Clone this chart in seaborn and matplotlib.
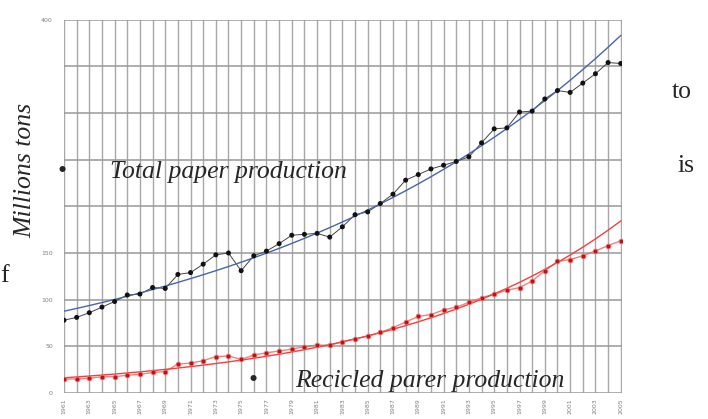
import numpy as np
import pandas as pd
import matplotlib
matplotlib.use("Agg")
import matplotlib.pyplot as plt
import seaborn as sns

# Annual world paper production, million tons
years = list(range(1961, 2006))
total_paper = [78, 81, 86, 92, 98, 105, 106, 113, 112, 127,
               129, 138, 148, 150, 131, 147, 152, 160, 169, 170,
               171, 167, 178, 191, 194, 203, 213, 228, 234, 240,
               244, 248, 253, 268, 283, 284, 301, 302, 315, 324,
               322, 332, 342, 354, 353]
recycled_paper = [15, 15, 15.7, 17.5, 17.5, 19, 20, 22, 23, 31,
                  32, 34.6, 39, 39.6, 36, 40.7, 43, 45, 47, 49.6,
                  51.4, 51, 55, 58, 61, 65, 70, 76, 82, 84,
                  89, 92, 97, 102, 106, 110, 113, 120, 131, 141,
                  143, 147, 152, 158, 163]

y_ticks = [0, 50, 100, 150, 200, 250, 300, 350, 400]
y_tick_labels = ["0", "50", "100", "150", "", "", "", "", "400"]
x_tick_years = list(range(1961, 2006, 2))

df = pd.DataFrame({"year": years, "total": total_paper, "recycled": recycled_paper})

# Exponential trend lines fitted to each series
def exp_trend(x, y):
    b, a = np.polyfit(x - x[0], np.log(y), 1)
    return np.exp(a + b * (x - x[0]))

xs = np.array(years, dtype=float)
df["total_trend"] = exp_trend(xs, np.array(total_paper, dtype=float))
df["recycled_trend"] = exp_trend(xs, np.array(recycled_paper, dtype=float))

sns.set_style("white")
fig = plt.figure(figsize=(7.08, 4.19), dpi=100)
ax = fig.add_axes([64 / 708, 26 / 419, 558 / 708, 373.4 / 419])

# grid: one vertical line per year, horizontal every 50
for yr in years:
    ax.axvline(yr, color="#a8a8a8", lw=1.0, zorder=0)
for yv in y_ticks:
    ax.axhline(yv, color="#999999", lw=1.1, zorder=0)

sns.lineplot(data=df, x="year", y="total", ax=ax, color="#444444", lw=0.7, zorder=2)
sns.scatterplot(data=df, x="year", y="total", ax=ax, color="#111111", s=13,
                edgecolor="none", zorder=3)
sns.lineplot(data=df, x="year", y="total_trend", ax=ax, color="#4a64a8", lw=1.0, zorder=2)

sns.lineplot(data=df, x="year", y="recycled", ax=ax, color="#f06060", lw=1.0, alpha=0.8, zorder=2)
sns.scatterplot(data=df, x="year", y="recycled", ax=ax, color="#b0181c", s=12,
                edgecolor="#ff7070", linewidth=0.6, zorder=3)
sns.lineplot(data=df, x="year", y="recycled_trend", ax=ax, color="#f04040", lw=1.0, zorder=2)

ax.set_xlim(1961, 2005.1)
ax.set_ylim(0, 400)
for s in ax.spines.values():
    s.set_visible(False)
ax.set_yticks(y_ticks)
ax.set_yticklabels(y_tick_labels, fontsize=4.5, color="#808080")
ax.set_xticks(x_tick_years)
ax.set_xticklabels([str(y) for y in x_tick_years], rotation=90, fontsize=4.5, color="#808080")
ax.tick_params(axis="y", length=0, pad=8)
ax.tick_params(axis="x", length=0, pad=4)
ax.set_xlabel("")
ax.set_ylabel("")

serif = ["Liberation Serif", "DejaVu Serif"]
fs = 18.5
fig.text(25 / 708, 1 - 170 / 419, "Millions tons", rotation=90, ha="center", va="center",
         fontsize=fs, style="italic", family=serif)
fig.text(62 / 708, 1 - 172 / 419, "•", ha="center", va="center", fontsize=fs, family=serif)
fig.text(110 / 708, 1 - 172 / 419, "Total paper production", ha="left", va="center",
         fontsize=fs, style="italic", family=serif)
fig.text(253 / 708, 1 - 381 / 419, "•", ha="center", va="center", fontsize=fs, family=serif)
fig.text(295 / 708, 1 - 381 / 419, "Recicled parer production", ha="left", va="center",
         fontsize=fs, style="italic", family=serif)
fig.text(672 / 708, 1 - 92 / 419, "to", ha="left", va="center", fontsize=fs, family=serif)
fig.text(677 / 708, 1 - 166 / 419, "is", ha="left", va="center", fontsize=fs, family=serif)
fig.text(0 / 708, 1 - 276 / 419, "f", ha="left", va="center", fontsize=fs, family=serif)

fig.savefig("out.png", dpi=100)
